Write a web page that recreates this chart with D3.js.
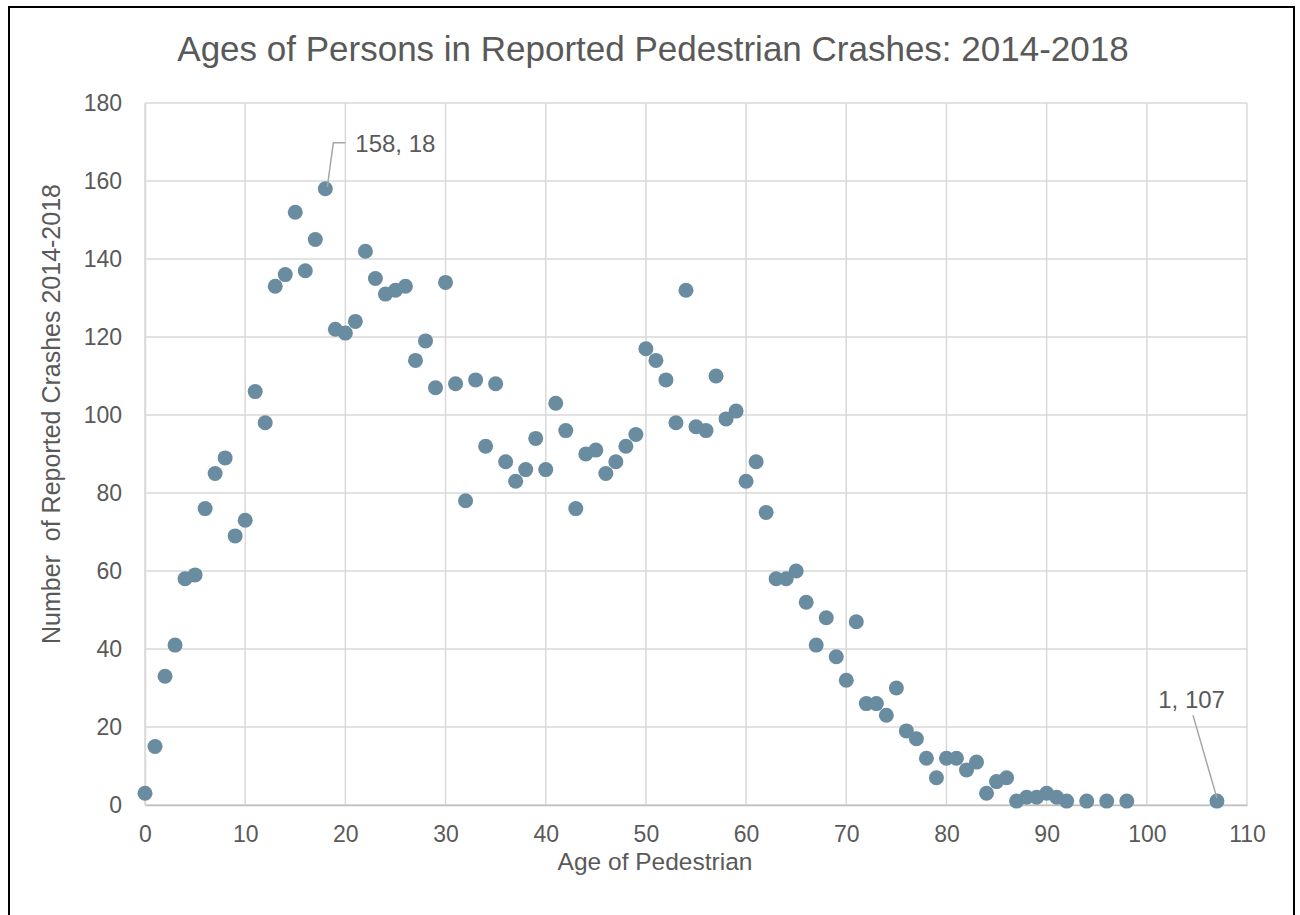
<!DOCTYPE html>
<html>
<head>
<meta charset="utf-8">
<script src="https://cdn.jsdelivr.net/npm/d3@7"></script>
<style>
  html, body { margin: 0; padding: 0; background: #fff; }
  svg text { font-family: "Liberation Sans", Arial, sans-serif; fill: #595959; }
</style>
</head>
<body>
<svg id="chart" width="1300" height="915"></svg>
<script>
const ages = [0,1,2,3,4,5,6,7,8,9,10,11,12,13,14,15,16,17,18,19,20,21,22,23,24,25,26,27,28,29,30,31,32,33,34,35,36,37,38,39,40,41,42,43,44,45,46,47,48,49,50,51,52,53,54,55,56,57,58,59,60,61,62,63,64,65,66,67,68,69,70,71,72,73,74,75,76,77,78,79,80,81,82,83,84,85,86,87,88,89,90,91,92,94,96,98,107];
const crashes = [3,15,33,41,58,59,76,85,89,69,73,106,98,133,136,152,137,145,158,122,121,124,142,135,131,132,133,114,119,107,134,108,78,109,92,108,88,83,86,94,86,103,96,76,90,91,85,88,92,95,117,114,109,98,132,97,96,110,99,101,83,88,75,58,58,60,52,41,48,38,32,47,26,26,23,30,19,17,12,7,12,12,9,11,3,6,7,1,2,2,3,2,1,1,1,1,1];
const xTicks = [0,10,20,30,40,50,60,70,80,90,100,110];
const yTicks = [0,20,40,60,80,100,120,140,160,180];
const labelAges = [18, 107];

const svg = d3.select("#chart");
const m = {left: 145, right: 1247, top: 103, bottom: 805};

// outer border
svg.append("rect").attr("x", 9).attr("y", 7).attr("width", 1285).attr("height", 940)
  .attr("fill", "none").attr("stroke", "#000").attr("stroke-width", 2);

const x = d3.scaleLinear().domain([0, 110]).range([m.left, m.right]);
const y = d3.scaleLinear().domain([0, 180]).range([m.bottom, m.top]);

// gridlines
svg.append("g").selectAll("line").data(xTicks).join("line")
  .attr("x1", d => x(d)).attr("x2", d => x(d)).attr("y1", m.top).attr("y2", m.bottom)
  .attr("stroke", "#d9d9d9").attr("stroke-width", 1.5);
svg.append("g").selectAll("line").data(yTicks).join("line")
  .attr("x1", m.left).attr("x2", m.right).attr("y1", d => y(d)).attr("y2", d => y(d))
  .attr("stroke", "#d9d9d9").attr("stroke-width", 1.5);

// axes
const xAxis = svg.append("g").attr("transform", `translate(0,${m.bottom})`)
  .call(d3.axisBottom(x).tickValues(xTicks).tickSize(0).tickPadding(21));
xAxis.select(".domain").attr("stroke", "#bfbfbf").attr("stroke-width", 1.5);
xAxis.selectAll("text").attr("font-size", 23).attr("fill", "#595959");

const yAxis = svg.append("g").attr("transform", `translate(${m.left},0)`)
  .call(d3.axisLeft(y).tickValues(yTicks).tickSize(0).tickPadding(23));
yAxis.select(".domain").attr("stroke", "#d9d9d9").attr("stroke-width", 1.5);
yAxis.selectAll("text").attr("font-size", 23).attr("fill", "#595959");
svg.selectAll("g").attr("font-family", null).attr("font-size", null);

// title
svg.append("text").attr("x", 653).attr("y", 61).attr("text-anchor", "middle")
  .attr("font-size", 35).text("Ages of Persons in Reported Pedestrian Crashes: 2014-2018");

// axis titles
svg.append("text").attr("x", 655).attr("y", 870).attr("text-anchor", "middle")
  .attr("font-size", 24.5).text("Age of Pedestrian");
svg.append("text").attr("transform", "translate(60,414) rotate(-90)").attr("text-anchor", "middle")
  .attr("font-size", 25).attr("xml:space", "preserve").style("white-space", "pre")
  .text("Number  of Reported Crashes 2014-2018");

// points
const data = ages.map((a, i) => ({age: a, n: crashes[i]}));
svg.append("g").selectAll("circle").data(data).join("circle")
  .attr("cx", d => x(d.age)).attr("cy", d => y(d.n)).attr("r", 7.5)
  .attr("fill", "#6a8ca0");

// data labels with leader lines
const d18 = data.find(d => d.age === labelAges[0]), d107 = data.find(d => d.age === labelAges[1]);
svg.append("path")
  .attr("d", `M${x(d18.age)+2},${y(d18.n)-2} L${x(d18.age)+8},${y(d18.n)-46} L${x(d18.age)+20},${y(d18.n)-46}`)
  .attr("fill", "none").attr("stroke", "#a6a6a6").attr("stroke-width", 1.5);
svg.append("text").attr("x", x(d18.age)+30).attr("y", y(d18.n)-37)
  .attr("font-size", 24).text(`${d18.n}, ${d18.age}`);
svg.append("path")
  .attr("d", `M${x(d107.age)},${y(d107.n)-3} L${x(d107.age)-24},${y(d107.n)-86}`)
  .attr("fill", "none").attr("stroke", "#a6a6a6").attr("stroke-width", 1.5);
svg.append("text").attr("x", x(d107.age)+8).attr("y", y(d107.n)-93).attr("text-anchor", "end")
  .attr("font-size", 24).text(`${d107.n}, ${d107.age}`);
</script>
</body>
</html>
